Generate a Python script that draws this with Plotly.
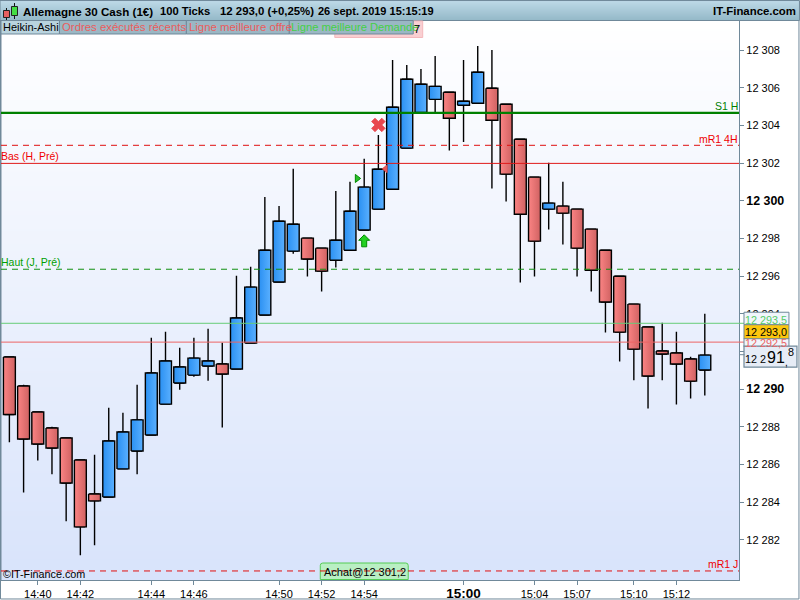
import plotly.graph_objects as go

# ---------- data ----------
opens = [12291.70,12290.16,12288.78,12287.93,12287.40,12286.23,12284.43,12284.27,12285.76,12286.71,
         12287.56,12289.20,12290.32,12290.74,12291.22,12291.33,12291.06,12292.44,12293.93,12295.68,
         12297.32,12298.01,12297.48,12296.84,12297.37,12298.44,12299.55,12300.61,12302.79,12304.68,
         12305.38,12305.76,12305.07,12305.17,12305.97,12305.12,12303.26,12301.25,12299.55,12299.71,
         12299.55,12298.49,12297.37,12295.99,12294.51,12293.29,12292.02,12291.91,12291.59,12291.01]
closes = [12288.65,12287.35,12287.08,12286.87,12285.01,12282.68,12284.06,12287.24,12287.72,12288.36,
          12290.85,12291.49,12291.17,12291.64,12291.49,12290.80,12293.77,12295.41,12297.37,12298.91,
          12298.75,12296.90,12296.26,12297.90,12299.44,12300.72,12301.67,12304.96,12306.45,12306.18,
          12306.07,12304.38,12305.28,12306.82,12304.27,12301.41,12299.28,12297.85,12299.87,12299.34,
          12297.48,12296.31,12294.62,12293.02,12292.12,12290.69,12291.86,12291.33,12290.42,12291.80]
highs = [12291.70,12290.23,12288.80,12288.00,12287.40,12286.23,12286.51,12289.01,12288.74,12290.23,
         12292.72,12293.04,12292.19,12292.72,12293.20,12292.46,12296.01,12296.49,12300.20,12299.72,
         12301.69,12298.01,12297.48,12300.52,12301.00,12302.22,12303.49,12307.47,12307.20,12306.99,
         12307.68,12305.76,12307.47,12308.21,12308.00,12305.12,12303.26,12301.25,12302.01,12301.00,
         12299.55,12298.49,12297.37,12295.99,12294.51,12293.29,12293.52,12293.04,12291.71,12293.99]
lows = [12287.17,12284.51,12286.21,12285.47,12282.98,12281.17,12281.70,12284.27,12285.76,12285.47,
        12287.56,12289.20,12289.96,12290.65,12290.44,12287.96,12291.06,12292.44,12293.93,12295.68,
        12297.18,12295.97,12295.18,12296.45,12297.37,12298.44,12299.55,12300.61,12302.79,12304.68,
        12304.71,12302.66,12303.12,12305.17,12300.64,12299.95,12295.66,12295.97,12298.47,12297.67,
        12295.97,12295.18,12293.00,12291.46,12290.46,12288.97,12290.46,12289.18,12289.50,12289.66]

BIG = '<span style="font-size:12.4px"><b>%s</b></span>'
time_idx = [2,5,10,13,19,22,25,32,37,40,44,47]
time_labels = ["14:40","14:42","14:44","14:46","14:50","14:52","14:54",'<span style="font-size:13.5px"><b>15:00</b></span>',"15:04","15:07","15:10","15:12"]
price_ticks = [12282,12284,12286,12288,12290,12292,12294,12296,12298,12300,12302,12304,12306,12308]
price_labels = ["12 282","12 284","12 286","12 288",BIG % "12 290","12 292","12 294","12 296","12 298",BIG % "12 300","12 302","12 304","12 306","12 308"]

S1_H = 12304.66
MR1_4H = 12302.94
BAS_H = 12301.98
HAUT_J = 12296.36
BEST_OFFER = 12293.49
BEST_BID = 12292.49
MR1_J = 12280.34

# ---------- layout geometry ----------
W, H = 800, 600
L, R, T, B = 1.0, 739.5, 21.0, 580.5
X_RANGE = [-0.5915, 51.41]
Y_RANGE = [12279.86, 12309.54]
FONT = "Liberation Sans"
GRAY = "#70899a"

def px(x): return (x - L) / (R - L)
def py(y): return (B - y) / (B - T)

def rect(x0, y0, x1, y1, fill=None, line=None, lw=1, layer="above"):
    return dict(type="rect", xref="paper", yref="paper", x0=px(x0), x1=px(x1), y0=py(y0), y1=py(y1),
                fillcolor=fill or "rgba(0,0,0,0)", line=dict(color=line or "rgba(0,0,0,0)", width=lw if line else 0), layer=layer)

def label(x, y, text, color="#000000", size=11, anchor="left", yanchor="middle", bold=False):
    if bold:
        text = "<b>" + text + "</b>"
    return dict(xref="paper", yref="paper", x=px(x), y=py(y), text=text, showarrow=False,
                xanchor=anchor, yanchor=yanchor, font=dict(family=FONT, size=size, color=color),
                borderpad=0, borderwidth=0, align=anchor)

def mix(a, b, t):
    return "#%02x%02x%02x" % tuple(round(a[k] + (b[k] - a[k]) * t) for k in range(3))

fig = go.Figure()

# plot background gradient
fig.add_trace(go.Heatmap(x=X_RANGE, y=Y_RANGE, z=[[1, 1], [0, 0]], zsmooth="best", showscale=False,
                         colorscale=[[0, "#ffffff"], [1, "#d8e3fb"]], hoverinfo="skip"))

# candles
n = len(opens)
xs = list(range(n))
fig.add_trace(go.Candlestick(x=xs, open=opens, high=highs, low=lows, close=closes, whiskerwidth=0,
                             increasing=dict(line=dict(color="#000000", width=1.4), fillcolor="#3d9cf8"),
                             decreasing=dict(line=dict(color="#000000", width=1.4), fillcolor="#e87272"),
                             showlegend=False))
w = 0.42
for i in xs:
    up = closes[i] > opens[i]
    scale = [[0, "#2a90f2"], [1, "#5ab0ff"]] if up else [[0, "#fb8484"], [1, "#d06262"]]
    fig.add_trace(go.Scatter(x=[i - w, i + w, i + w, i - w, i - w],
                             y=[opens[i], opens[i], closes[i], closes[i], opens[i]],
                             mode="lines", fill="toself", showlegend=False, hoverinfo="skip",
                             fillgradient=dict(type="horizontal", colorscale=scale),
                             line=dict(color="#000000", width=1.4)))

# trade markers
fig.add_trace(go.Scatter(x=[26], y=[12304.02], mode="markers", showlegend=False,
                         marker=dict(symbol="x", size=12, color="#e8474f", line=dict(color="#e8474f", width=0.8))))
fig.add_trace(go.Scatter(x=[24.5], y=[12301.18], mode="markers", showlegend=False,
                         marker=dict(symbol="triangle-right", size=7, color="#28c028", line=dict(color="#008a00", width=1))))
fig.add_trace(go.Scatter(x=[26.5], y=[12301.69], mode="markers", showlegend=False,
                         marker=dict(symbol="triangle-left", size=7, color="#e85858", line=dict(color="#d04040", width=0.5))))

shapes = []
# outer frame
shapes.append(rect(0.5, 0.5, 799.5, 599.5, line=GRAY, lw=1, layer="below"))
shapes.append(rect(0.5, 20, 1.5, 581, fill=GRAY))

# long-trade up arrow
shapes.append(dict(type="path", xref="x", yref="y", xsizemode="pixel", ysizemode="pixel",
                   xanchor=25, yanchor=12297.87, layer="above",
                   path="M 0 6 L 5.5 0.5 L 2.5 0.5 L 2.5 -6 L -2.5 -6 L -2.5 0.5 L -5.5 0.5 Z",
                   fillcolor="#22d022", line=dict(color="#008a00", width=1)))

# Achat tag behind lines
shapes.append(dict(type="path", xref="paper", yref="paper", layer="above",
                   path="M {} {} L {} {} Q {} {} {} {} L {} {} Q {} {} {} {} L {} {} Z".format(
                       px(320.5), py(580), px(320.5), py(566), px(320.5), py(563.5), px(323), py(563.5),
                       px(406), py(563.5), px(408.5), py(563.5), px(408.5), py(566), px(408.5), py(580)),
                   fillcolor="#b9efc3", line=dict(color="#55cc55", width=1)))

def hline(v, color, width, dash="solid", x1=R):
    return dict(type="line", xref="paper", yref="y", x0=0, x1=px(x1), y0=v, y1=v,
                line=dict(color=color, width=width, dash=dash), layer="above")

shapes += [hline(S1_H, "#008000", 2.4),
           hline(MR1_4H, "#e01010", 1, "6px,5px"),
           hline(BAS_H, "#e01818", 1),
           hline(HAUT_J, "#109010", 1, "6px,5px"),
           hline(BEST_OFFER, "#66cc77", 1, x1=745),
           hline(BEST_BID, "#ec6464", 1, x1=745),
           hline(MR1_J, "#e01010", 1, "6px,5px")]

# header band gradient
top_c, bot_c = (190, 218, 232), (150, 186, 201)
for k in range(20):
    shapes.append(rect(0, k, 800, k + 1, fill=mix(top_c, bot_c, k / 19)))
shapes.append(rect(0, 0.5, 800, 20.5, line=GRAY, lw=1))

# header icon
shapes.append(dict(type="line", xref="paper", yref="paper", x0=px(6.5), x1=px(6.5), y0=py(8), y1=py(20), line=dict(color="#111", width=1)))
shapes.append(rect(3.5, 10.5, 9.5, 17.5, fill="#e66060", line="#222", lw=1))
shapes.append(dict(type="line", xref="paper", yref="paper", x0=px(14.5), x1=px(14.5), y0=py(3), y1=py(19), line=dict(color="#111", width=1)))
shapes.append(rect(11.5, 6.5, 17.5, 15.5, fill="#44dd44", line="#222", lw=1))

# pink order tag behind the indicator buttons
shapes.append(rect(335, 21, 423, 37.5, fill="#f9cfd2", line="#f4b8bc", lw=1))
# indicator buttons
btn_fill = "#9ab7c4"
shapes.append(rect(1, 20.5, 59.5, 34, fill="#b9d3de", line=GRAY))
shapes.append(rect(59.5, 20.5, 186.5, 34, fill=btn_fill, line=GRAY))
shapes.append(rect(186.5, 20.5, 289.5, 34, fill=btn_fill, line=GRAY))
shapes.append(rect(289.5, 20.5, 413.5, 34, fill=btn_fill, line=GRAY))

# price boxes
shapes.append(rect(744.5, 312.5, 789.5, 325, fill="#f0f5fb", line=GRAY))
shapes.append(rect(744.5, 338.5, 789.5, 347, fill="#f0f5fb", line=GRAY))
shapes.append(rect(744.5, 325, 789.5, 339, fill="#fcc60e", line=GRAY))
shapes.append(rect(744.5, 346.5, 797.5, 367.5, fill="#e6ecf6", line=GRAY, lw=1.2))
shapes.append(dict(type="line", xref="paper", yref="paper", x0=px(739.5), x1=px(745), y0=py(355), y1=py(355), line=dict(color=GRAY, width=1)))

annotations = [
    label(23, 11, "Allemagne 30 Cash (1€)", size=11.6, bold=True),
    label(160, 11, "100 Ticks", size=11.2, bold=True),
    label(220, 11, "12 293,0 (+0,25%)", size=11.4, bold=True),
    label(318, 11, "26 sept. 2019 15:15:19", size=11, bold=True),
    label(797, 11, "IT-Finance.com", size=11.4, anchor="right", bold=True),
    label(3, 27, "Heikin-Ashi", size=11),
    label(62, 27, "Ordres exécutés récents", color="#ea5c5c", size=11.4),
    label(189, 27, "Ligne meilleure offre", color="#ea5c5c", size=11.4),
    label(291.5, 27, "Ligne meilleure Demande", color="#45d045", size=11.2),
    label(414.5, 29.5, "7", size=11),
    label(738, 106, "S1 H", color="#008000", anchor="right", size=10.5),
    label(738, 139, "mR1 4H", color="#f00000", anchor="right", size=10.5),
    label(1, 156, "Bas (H, Pré)", color="#f00000", size=10.5),
    label(1, 262, "Haut (J, Pré)", color="#00a000", size=10.5),
    label(738, 564, "mR1 J", color="#f00000", anchor="right", size=10.5),
    label(3, 574, "©IT-Finance.com", size=10.8),
    label(324, 572, "Achat@12 301,2", size=11),
    label(746, 320, "12 293,5", color="#55cc66", size=10.8),
    label(746, 332.5, "12 293,0", size=10.8),
    label(746, 343, "12 292,5", color="#ea6464", size=10.8),
    label(746, 359.5, "12 2", size=10.8),
    label(768, 357.5, "91", size=16),
    label(789, 352.5, "8", size=10.8),
    label(786, 362.5, ",", size=10),
]

fig.update_layout(
    width=W, height=H, autosize=False,
    margin=dict(l=L, r=W - R, t=T, b=H - B, pad=0, autoexpand=False),
    paper_bgcolor="#ffffff", plot_bgcolor="#ffffff",
    showlegend=False, boxgap=0.16,
    font=dict(family=FONT, size=11, color="#000000"),
    shapes=shapes, annotations=annotations,
    xaxis=dict(range=X_RANGE, rangeslider=dict(visible=False), tickmode="array", tickvals=time_idx,
               ticktext=time_labels, ticks="outside", ticklen=4, tickcolor=GRAY, showgrid=False, zeroline=False,
               automargin=False, showline=True, linecolor=GRAY, linewidth=1.2,
               tickfont=dict(family=FONT, size=11, color="#000"), tickangle=0),
    yaxis=dict(range=Y_RANGE, side="right", tickmode="array", tickvals=price_ticks, ticktext=price_labels,
               ticks="outside", ticklen=4, tickcolor=GRAY, showgrid=False, zeroline=False,
               automargin=False, showline=True, linecolor=GRAY, linewidth=1.2,
               tickfont=dict(family=FONT, size=11, color="#000")),
)

fig.write_html("out.html", config=dict(displayModeBar=False),
               post_script="document.body.style.margin='0';document.body.style.overflow='hidden';")
